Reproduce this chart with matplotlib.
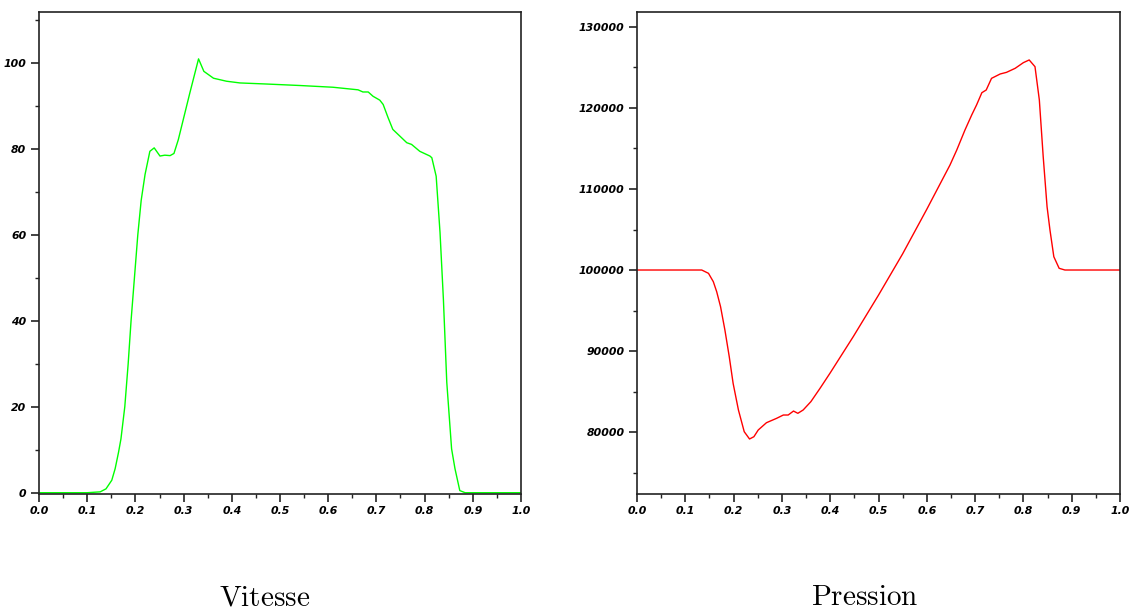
import matplotlib
matplotlib.use("Agg")
import matplotlib.pyplot as plt
from matplotlib.ticker import MultipleLocator, FormatStrFormatter

plt.rcParams['mathtext.fontset'] = 'cm'

# Vitesse (velocity) curve
vit_x = [0.0, 0.10, 0.127, 0.139, 0.151, 0.158, 0.165, 0.170, 0.178, 0.185, 0.191,
         0.198, 0.205, 0.212, 0.220, 0.230, 0.239, 0.251, 0.261, 0.272, 0.280, 0.289,
         0.313, 0.331, 0.342, 0.362, 0.389, 0.417, 0.472, 0.542, 0.610, 0.662,
         0.672, 0.683, 0.693, 0.707, 0.714, 0.724, 0.734, 0.749, 0.763, 0.773,
         0.790, 0.811, 0.815, 0.824, 0.832, 0.839, 0.846, 0.856, 0.863, 0.873,
         0.884, 1.0]
vit_y = [0.0, 0.0, 0.2, 0.9, 2.9, 5.6, 9.4, 12.5, 20.0, 30.0, 40.0,
         50.0, 60.0, 68.0, 74.0, 79.4, 80.2, 78.3, 78.5, 78.4, 78.9, 82.1,
         93.0, 100.9, 98.0, 96.4, 95.7, 95.3, 95.05, 94.7, 94.3, 93.7,
         93.2, 93.2, 92.2, 91.3, 90.3, 87.3, 84.5, 82.9, 81.4, 81.0,
         79.4, 78.3, 77.9, 73.6, 60.5, 45.0, 25.7, 10.2, 5.6, 0.5,
         0.0, 0.0]

# Pression (pressure) curve
pre_x = [0.0, 0.134, 0.148, 0.158, 0.165, 0.173, 0.182, 0.191, 0.199, 0.210,
         0.222, 0.233, 0.242, 0.251, 0.268, 0.289, 0.303, 0.313, 0.324, 0.333,
         0.344, 0.360, 0.379, 0.400, 0.448, 0.500, 0.550, 0.600, 0.648, 0.662,
         0.679, 0.693, 0.703, 0.714, 0.723, 0.734, 0.752, 0.765, 0.783, 0.800,
         0.812, 0.824, 0.833, 0.841, 0.849, 0.855, 0.863, 0.874, 0.886, 1.0]
pre_y = [100000, 100000, 99590, 98560, 97320, 95470, 92590, 89300, 86010, 82720,
         80040, 79140, 79420, 80250, 81150, 81690, 82100, 82100, 82590, 82310,
         82720, 83750, 85400, 87300, 91800, 96900, 102000, 107500, 112960, 114810,
         117280, 119140, 120370, 121890, 122220, 123660, 124200, 124400, 124900, 125600,
         125930, 125100, 120990, 113990, 107810, 104940, 101640, 100210, 100000, 100000]

fig = plt.figure(figsize=(11.34, 6.12), dpi=100)
ax1 = fig.add_axes([39/1134, 1-494/612, 482/1134, 482/612])
ax2 = fig.add_axes([637/1134, 1-494/612, 483/1134, 482/612])

ax1.plot(vit_x, vit_y, color='#00ff00', linewidth=1.0)
ax2.plot(pre_x, pre_y, color='#ff0000', linewidth=1.0)

ax1.set_ylim(-0.3, 111.8)
ax1.yaxis.set_major_locator(MultipleLocator(20))
ax1.yaxis.set_minor_locator(MultipleLocator(10))
ax1.yaxis.set_major_formatter(FormatStrFormatter('%d'))

ax2.set_ylim(72350, 131850)
ax2.yaxis.set_major_locator(MultipleLocator(10000))
ax2.yaxis.set_minor_locator(MultipleLocator(5000))
ax2.yaxis.set_major_formatter(FormatStrFormatter('%d'))

for ax in (ax1, ax2):
    ax.set_xlim(0, 1)
    ax.xaxis.set_major_locator(MultipleLocator(0.1))
    ax.xaxis.set_minor_locator(MultipleLocator(0.05))
    ax.xaxis.set_major_formatter(FormatStrFormatter('%.1f'))
    for s in ax.spines.values():
        s.set_linewidth(1.2)
        s.set_color('#222222')
    ax.tick_params(which='major', direction='out', length=6, width=1.2,
                   color='#222222', pad=3)
    ax.tick_params(which='minor', direction='out', length=3, width=1.0,
                   color='#222222')
    for lab in ax.get_xticklabels() + ax.get_yticklabels():
        lab.set_fontsize(7.8)
        lab.set_fontweight('bold')
        lab.set_fontstyle('italic')

fig.text(265/1134, 1-597/612, r'$\mathrm{Vitesse}$', fontsize=21,
         ha='center', va='center')
fig.text(865/1134, 1-597/612, r'$\mathrm{Pression}$', fontsize=21,
         ha='center', va='center')

fig.savefig('out.png', dpi=100)
